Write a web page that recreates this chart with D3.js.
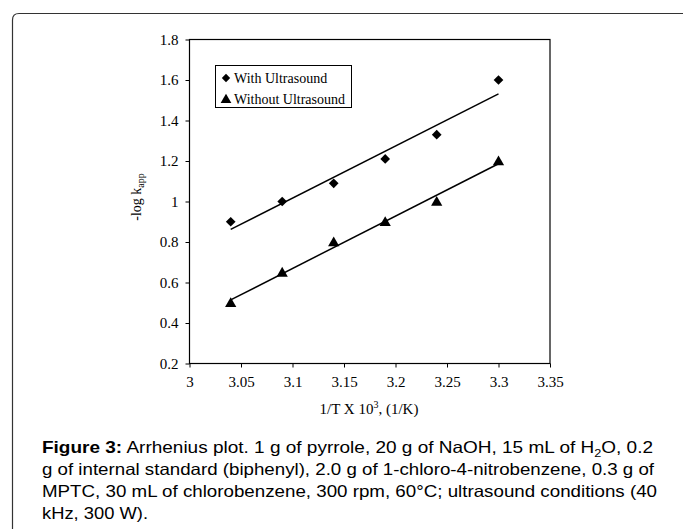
<!DOCTYPE html>
<html>
<head>
<meta charset="utf-8">
<script src="https://cdn.jsdelivr.net/npm/d3@7"></script>
<style>
body { margin: 0; background: #fff; }
svg { display: block; }
</style>
</head>
<body>
<svg id="chart" width="683" height="529"></svg>
<script>
// values
var invT = [3.04, 3.09, 3.14, 3.19, 3.24, 3.3];
var withUS = [0.9, 1.0, 1.09, 1.21, 1.33, 1.6];
var withoutUS = [0.5, 0.65, 0.8, 0.9, 1.0, 1.2];
var xTicks = [3, 3.05, 3.1, 3.15, 3.2, 3.25, 3.3, 3.35];
var yTicks = [0.2, 0.4, 0.6, 0.8, 1, 1.2, 1.4, 1.6, 1.8];
var seriesNames = ["With Ultrasound", "Without Ultrasound"];

var svg = d3.select("#chart");

// outer figure frame (open at the right / bottom like the page crop)
svg.append("path")
	.attr("d", "M12.5,529 L12.5,20 Q12.5,13.5 19,13.5 L683,13.5")
	.attr("fill", "none")
	.attr("stroke", "#333")
	.attr("stroke-width", 1.2);

var plotL = 189.5, plotR = 550, plotT = 39.5, plotB = 363.5;

var x = d3.scaleLinear().domain([3, 3.35]).range([plotL, plotR]);
var y = d3.scaleLinear().domain([0.2, 1.8]).range([plotB, plotT]);

var serif = "'Liberation Serif', 'Times New Roman', serif";

var xAxis = svg.append("g")
	.attr("transform", "translate(0," + plotB + ")")
	.call(d3.axisBottom(x).tickValues(xTicks).tickSize(4).tickSizeOuter(0)
		.tickFormat(function(d){ return +d.toFixed(2); }));

var yAxis = svg.append("g")
	.attr("transform", "translate(" + plotL + ",0)")
	.call(d3.axisLeft(y).tickValues(yTicks).tickSize(4).tickSizeOuter(0)
		.tickFormat(function(d){ return +d.toFixed(1); }));

svg.selectAll(".domain").remove();
svg.selectAll(".tick line").attr("stroke", "#000").attr("stroke-width", 1);
svg.selectAll(".tick text")
	.attr("fill", "#000")
	.style("font-family", serif)
	.style("font-size", "15px");
xAxis.selectAll(".tick text").attr("dy", "0.71em").attr("y", 13);
yAxis.selectAll(".tick text").attr("x", -11).attr("dy", "0.33em");

// plot box
svg.append("rect")
	.attr("x", plotL).attr("y", plotT)
	.attr("width", plotR - plotL).attr("height", plotB - plotT)
	.attr("fill", "none")
	.attr("stroke", "#000")
	.attr("stroke-width", 1.2);

// least squares trend line through each series
function fit(xs, ys){
	var mx = d3.mean(xs), my = d3.mean(ys);
	var sxy = d3.sum(xs, function(v, i){ return (v - mx) * (ys[i] - my); });
	var sxx = d3.sum(xs, function(v){ return (v - mx) * (v - mx); });
	var b = sxy / sxx;
	return function(v){ return my + b * (v - mx); };
}

[withUS, withoutUS].forEach(function(ys){
	var f = fit(invT, ys);
	var x0 = d3.min(invT), x1 = d3.max(invT);
	svg.append("line")
		.attr("x1", x(x0)).attr("y1", y(f(x0)))
		.attr("x2", x(x1)).attr("y2", y(f(x1)))
		.attr("stroke", "#000")
		.attr("stroke-width", 1.5);
});

var diamond = d3.symbol().type(d3.symbolDiamond2).size(60);
var triangle = d3.symbol().type(d3.symbolTriangle).size(55);

svg.append("g").selectAll("path")
	.data(invT)
	.join("path")
	.attr("d", diamond)
	.attr("transform", function(d, i){ return "translate(" + x(d) + "," + y(withUS[i]) + ")"; })
	.attr("fill", "#000");

svg.append("g").selectAll("path")
	.data(invT)
	.join("path")
	.attr("d", triangle)
	.attr("transform", function(d, i){ return "translate(" + x(d) + "," + (y(withoutUS[i]) + 1) + ")"; })
	.attr("fill", "#000");

// legend
var legend = svg.append("g");
legend.append("rect")
	.attr("x", 215.5).attr("y", 65.5)
	.attr("width", 136).attr("height", 42)
	.attr("fill", "#fff")
	.attr("stroke", "#000")
	.attr("stroke-width", 1);

var items = legend.selectAll("g.item")
	.data(seriesNames)
	.join("g")
	.attr("class", "item")
	.attr("transform", function(d, i){ return "translate(226," + (78 + i * 21) + ")"; });

items.append("path")
	.attr("d", function(d, i){ return i == 0 ? d3.symbol().type(d3.symbolDiamond2).size(45)() : d3.symbol().type(d3.symbolTriangle).size(50)(); })
	.attr("transform", function(d, i){ return i == 0 ? "" : "translate(0,1)"; })
	.attr("fill", "#000");

items.append("text")
	.attr("x", 8)
	.attr("y", 5)
	.style("font-family", serif)
	.style("font-size", "14px")
	.text(function(d){ return d; });

// axis titles
var yTitle = svg.append("text")
	.attr("transform", "translate(141,197) rotate(-90)")
	.attr("text-anchor", "middle")
	.style("font-family", serif)
	.style("font-size", "14px");
yTitle.append("tspan").text("-log k");
yTitle.append("tspan").attr("dy", 3).style("font-size", "10px").text("app");

var xTitle = svg.append("text")
	.attr("x", 369).attr("y", 414)
	.attr("text-anchor", "middle")
	.style("font-family", serif)
	.style("font-size", "15px");
xTitle.append("tspan").text("1/T X 10");
xTitle.append("tspan").attr("dy", -6).style("font-size", "10px").text("3");
xTitle.append("tspan").attr("dy", 6).text(", (1/K)");

// caption
var sans = "'Liberation Sans', Arial, sans-serif";
var cap = svg.append("g")
	.style("font-family", sans)
	.style("font-size", "16.5px")
	.attr("fill", "#000");

var l1 = cap.append("text").attr("x", 42).attr("y", 453)
	.attr("textLength", 611).attr("lengthAdjust", "spacingAndGlyphs");
l1.append("tspan").style("font-weight", "bold").text("Figure 3:");
l1.append("tspan").text(" Arrhenius plot. 1 g of pyrrole, 20 g of NaOH, 15 mL of H");
l1.append("tspan").attr("dy", 4).style("font-size", "11px").text("2");
l1.append("tspan").attr("dy", -4).text("O, 0.2");

cap.append("text").attr("x", 42).attr("y", 475)
	.attr("textLength", 612).attr("lengthAdjust", "spacingAndGlyphs")
	.text("g of internal standard (biphenyl), 2.0 g of 1-chloro-4-nitrobenzene, 0.3 g of");
cap.append("text").attr("x", 42).attr("y", 497)
	.attr("textLength", 615).attr("lengthAdjust", "spacingAndGlyphs")
	.text("MPTC, 30 mL of chlorobenzene, 300 rpm,  60\u00B0C; ultrasound conditions (40");
cap.append("text").attr("x", 42).attr("y", 519)
	.attr("textLength", 106).attr("lengthAdjust", "spacingAndGlyphs")
	.text("kHz, 300 W).");
</script>
</body>
</html>
